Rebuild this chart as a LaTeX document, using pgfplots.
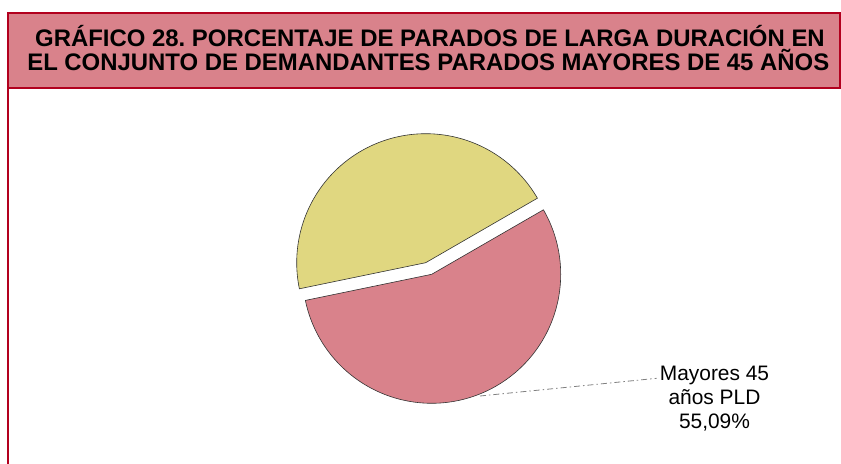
\documentclass[border=0pt]{standalone}
\usepackage{pgfplots}
\pgfplotsset{compat=1.18}
\usepackage{pgfplotstable}
\usepackage{fontspec}
\setmainfont{Liberation Sans}
\frenchspacing
\definecolor{framered}{RGB}{178,0,30}
\definecolor{titlepink}{RGB}{217,130,139}
\definecolor{slicepink}{RGB}{217,130,139}
\definecolor{sliceyellow}{RGB}{224,215,128}
% share of long-term unemployed among unemployed job seekers over 45 (%)
\pgfplotstableread{
label value
PLD 55.09
noPLD 44.91
}\piedata
\pgfplotstablegetelem{0}{value}\of{\piedata}\let\vPLD\pgfplotsretval
\pgfplotstablegetelem{1}{value}\of{\piedata}\let\vNo\pgfplotsretval
\pgfmathsetmacro{\aStart}{30}
\pgfmathsetmacro{\aMid}{\aStart+3.6*\vNo}
\pgfmathsetmacro{\aEnd}{\aMid+3.6*\vPLD}
\begin{document}
\begin{tikzpicture}
\begin{axis}[
  width=841bp, height=464bp, scale only axis,
  xmin=0, xmax=841, ymin=0, ymax=464,
  hide axis, clip=false,
]
% frame
\draw[framered, line width=2bp] (axis cs:8,0) -- (axis cs:8,376);
\filldraw[fill=titlepink, draw=framered, line width=2bp] (axis cs:8,376) rectangle (axis cs:840,451);
\node[anchor=base, font=\fontsize{24}{24.3}\selectfont\bfseries] at (axis cs:430,417.3) {GRÁFICO 28. PORCENTAJE DE PARADOS DE LARGA DURACIÓN EN};
\node[anchor=base, font=\fontsize{24}{24.3}\selectfont\bfseries] at (axis cs:428.3,393) {EL CONJUNTO DE DEMANDANTES PARADOS MAYORES DE 45 AÑOS};
% yellow slice (not long-term)
\addplot[fill=sliceyellow, draw=black!80, line width=0.6bp, domain=\aStart:\aMid, samples=120, variable=\t]
  ({425.7+129*cos(\t)}, {201.3+129*sin(\t)}) -- (axis cs:425.7,201.3) -- cycle;
% pink slice (exploded, long-term)
\addplot[fill=slicepink, draw=black!80, line width=0.6bp, domain=\aMid:\aEnd, samples=160, variable=\t]
  ({431.7+129*cos(\t)}, {189.7+129*sin(\t)}) -- (axis cs:431.7,189.7) -- cycle;
% leader line
\addplot[gray, line width=0.8bp, dash pattern=on 6bp off 3bp on 1.5bp off 3bp] coordinates {(480,68) (656.7,85.7)};
\node[anchor=base, font=\fontsize{21}{24}\selectfont] at (axis cs:714.5,83.3) {Mayores 45};
\node[anchor=base, font=\fontsize{21}{24}\selectfont] at (axis cs:714.5,59) {años PLD};
\node[anchor=base, font=\fontsize{21}{24}\selectfont] at (axis cs:714.5,35.7) {55,09\%};
\end{axis}
\pgfresetboundingbox
\useasboundingbox (0,0) rectangle (841bp,464bp);
\end{tikzpicture}
\end{document}
